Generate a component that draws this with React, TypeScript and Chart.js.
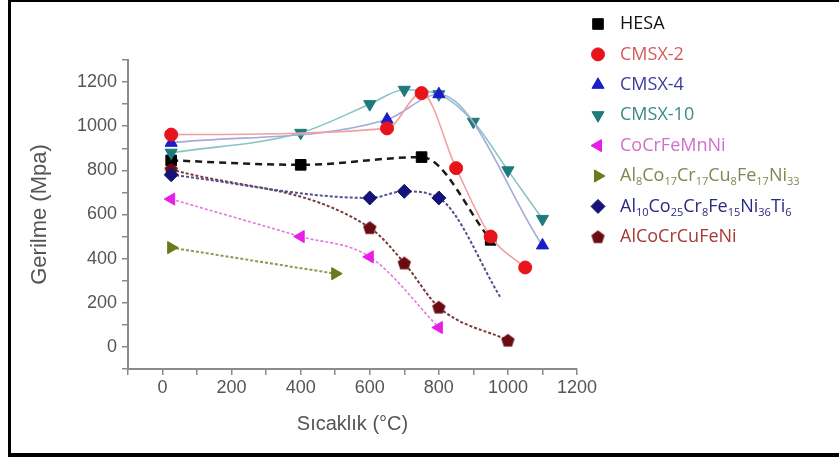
import React, { useEffect, useRef } from "react";
import { Chart, registerables } from "chart.js";
import { drawPoint } from "chart.js/helpers";

Chart.register(...registerables);

// ---- data ----
const hesaX = [25, 400, 750, 950];
const hesaY = [845, 825, 860, 485];
const cmsx2X = [25, 650, 750, 850, 950, 1050];
const cmsx2Y = [962, 990, 1150, 810, 500, 360];
const cmsx4X = [25, 650, 800, 1100];
const cmsx4Y = [925, 1030, 1145, 460];
const cmsx10X = [25, 400, 600, 700, 800, 900, 1000, 1100];
const cmsx10Y = [880, 970, 1100, 1165, 1145, 1020, 800, 580];
const cocrX = [25, 400, 600, 800];
const cocrY = [670, 500, 408, 88];
const al8X = [25, 500];
const al8Y = [450, 332];
const al10X = [25, 600, 700, 800, 980];
const al10Y = [780, 675, 705, 675, 220];
const alcoX = [25, 600, 700, 800, 1000];
const alcoY = [805, 540, 380, 180, 30];

const xTickLabels = [0, 200, 400, 600, 800, 1000, 1200];
const yTickLabels = [0, 200, 400, 600, 800, 1000, 1200];

const legendParts: Array<Array<[string, boolean]>> = [
  [["HESA", false]],
  [["CMSX-2", false]],
  [["CMSX-4", false]],
  [["CMSX-10", false]],
  [["CoCrFeMnNi", false]],
  [["Al", false], ["8", true], ["Co", false], ["17", true], ["Cr", false], ["17", true], ["Cu", false], ["8", true], ["Fe", false], ["17", true], ["Ni", false], ["33", true]],
  [["Al", false], ["10", true], ["Co", false], ["25", true], ["Cr", false], ["8", true], ["Fe", false], ["15", true], ["Ni", false], ["36", true], ["Ti", false], ["6", true]],
  [["AlCoCrCuFeNi", false]],
];

function pts(xs: number[], ys: number[]) {
  return xs.map((x, i) => ({ x, y: ys[i] }));
}

function makePentagon(color: string, size: number) {
  const c = document.createElement("canvas");
  c.width = size;
  c.height = size;
  const g = c.getContext("2d")!;
  const r = size / 2 - 0.5;
  g.beginPath();
  for (let i = 0; i < 5; i++) {
    const a = -Math.PI / 2 + (i * 2 * Math.PI) / 5;
    const px = size / 2 + r * Math.cos(a);
    const py = size / 2 + 0.6 + r * Math.sin(a);
    if (i === 0) g.moveTo(px, py);
    else g.lineTo(px, py);
  }
  g.closePath();
  g.fillStyle = color;
  g.fill();
  return c;
}

export default function App() {
  const ref = useRef<HTMLCanvasElement>(null);

  useEffect(() => {
    const pent = makePentagon("#6a0c12", 15);
    const series = [
      { label: "HESA", xs: hesaX, ys: hesaY, mc: "#000000", lc: "#1a1a1a", ps: "rect", rot: 0, r: 7.5, dash: [7, 5], lw: 2.5, tc: "#111111", order: 1 },
      { label: "CMSX-2", xs: cmsx2X, ys: cmsx2Y, mc: "#e8141c", lc: "#f0a0a0", ps: "circle", rot: 0, r: 6.5, dash: [], lw: 1.6, tc: "#d85a5a", order: 0 },
      { label: "CMSX-4", xs: cmsx4X, ys: cmsx4Y, mc: "#1c1cc8", lc: "#a4acd8", ps: "triangle", rot: 0, r: 7, dash: [], lw: 1.6, tc: "#3c3ca0", order: 0 },
      { label: "CMSX-10", xs: cmsx10X, ys: cmsx10Y, mc: "#1e7b7b", lc: "#88c4c4", ps: "triangle", rot: 180, r: 7, dash: [], lw: 1.6, tc: "#3a8a8a", order: 0 },
      { label: "CoCrFeMnNi", xs: cocrX, ys: cocrY, mc: "#e81ee8", lc: "#e07ae0", ps: "triangle", rot: 270, r: 7, dash: [3, 2], lw: 1.6, tc: "#d070c8", order: 0 },
      { label: "Al8Co17Cr17Cu8Fe17Ni33", xs: al8X, ys: al8Y, mc: "#6a7a1c", lc: "#8a9a50", ps: "triangle", rot: 90, r: 7, dash: [3, 2], lw: 2, tc: "#7a8a50", order: 0 },
      { label: "Al10Co25Cr8Fe15Ni36Ti6", xs: al10X, ys: al10Y, mc: "#141478", lc: "#505090", ps: "rectRot", rot: 0, r: 7, dash: [3, 2], lw: 2, tc: "#2a2a80", order: 0 },
      { label: "AlCoCrCuFeNi", xs: alcoX, ys: alcoY, mc: "#6a0c12", lc: "#7a3a3a", ps: pent as any, rot: 0, r: 7, dash: [3, 2], lw: 2, tc: "#a83838", order: 0 },
    ];

    const datasets = series.map((s) => ({
      label: s.label,
      data: pts(s.xs, s.ys),
      order: s.order,
      borderColor: s.lc,
      backgroundColor: s.mc,
      borderWidth: s.lw,
      borderDash: s.dash,
      pointStyle: s.ps,
      pointRotation: s.rot,
      pointRadius: s.label.startsWith("Al10") ? s.xs.map((_, i) => (i === s.xs.length - 1 ? 0 : s.r)) : s.r,
      pointBackgroundColor: s.mc,
      pointBorderColor: s.mc,
      pointBorderWidth: 1,
      cubicInterpolationMode: "monotone" as const,
      tension: 0.4,
      fill: false,
    }));

    const legendPlugin = {
      id: "customLegend",
      afterDraw(chart: any) {
        const ctx = chart.ctx as CanvasRenderingContext2D;
        ctx.save();
        series.forEach((s, i) => {
          const y = 24 + i * 30.4;
          ctx.fillStyle = s.mc;
          ctx.strokeStyle = s.mc;
          ctx.lineWidth = 1;
          drawPoint(ctx, { pointStyle: s.ps, rotation: s.rot, radius: s.r, borderWidth: 1 } as any, 598, y);
          let x = 620;
          ctx.fillStyle = s.tc;
          ctx.textBaseline = "middle";
          for (const [txt, sub] of legendParts[i]) {
            ctx.font = sub ? "11px 'Open Sans'" : "18px 'Open Sans'";
            ctx.fillText(txt, x, sub ? y + 6 : y);
            x += ctx.measureText(txt).width;
          }
        });
        ctx.restore();
      },
    };

    const tickFont = { family: "'Liberation Sans', Arial, sans-serif", size: 18 };
    const chart = new Chart(ref.current!, {
      type: "line",
      data: { datasets },
      options: {
        responsive: false,
        animation: false,
        layout: { padding: { left: 23, top: 60, right: 262, bottom: 17 } },
        plugins: { legend: { display: false }, tooltip: { enabled: false } },
        scales: {
          x: {
            type: "linear",
            min: -100,
            max: 1200,
            afterFit: (s: any) => { s.height = 71; },
            ticks: {
              stepSize: 100,
              autoSkip: false,
              maxRotation: 0,
              padding: 2,
              color: "#555",
              font: tickFont,
              callback: (v: any) => (xTickLabels.includes(Number(v)) ? String(v) : ""),
            },
            grid: { drawOnChartArea: false, drawTicks: true, tickLength: 6, color: "#8a8a8a", lineWidth: 1.5 },
            border: { color: "#8a8a8a", width: 2 },
            title: { display: true, text: "Sıcaklık (°C)", color: "#555", font: { family: "'Liberation Sans', Arial, sans-serif", size: 20 } },
          },
          y: {
            type: "linear",
            min: -100,
            max: 1300,
            afterFit: (s: any) => { s.width = 105; },
            ticks: {
              stepSize: 100,
              autoSkip: false,
              padding: 5,
              color: "#555",
              font: tickFont,
              callback: (v: any) => (yTickLabels.includes(Number(v)) ? String(v) : ""),
            },
            grid: { drawOnChartArea: false, drawTicks: true, tickLength: 6, color: "#8a8a8a", lineWidth: 1.5 },
            border: { color: "#8a8a8a", width: 2 },
            title: { display: true, text: "Gerilme (Mpa)", color: "#555", font: { family: "'Liberation Sans', Arial, sans-serif", size: 22 } },
          },
        },
      },
      plugins: [legendPlugin],
    } as any);
    return () => chart.destroy();
  }, []);

  return (
    <div style={{ position: "absolute", left: 0, top: 0, width: 839, height: 457, background: "#fff", overflow: "hidden" }}>
      <canvas ref={ref} width={839} height={457} style={{ position: "absolute", left: 0, top: 0 }} />
      <div
        style={{
          position: "absolute",
          left: 8,
          top: 0,
          width: 840,
          height: 457,
          boxSizing: "border-box",
          borderTop: "2px solid #000",
          borderLeft: "3px solid #000",
          borderBottom: "4px solid #000",
          pointerEvents: "none",
        }}
      />
    </div>
  );
}
